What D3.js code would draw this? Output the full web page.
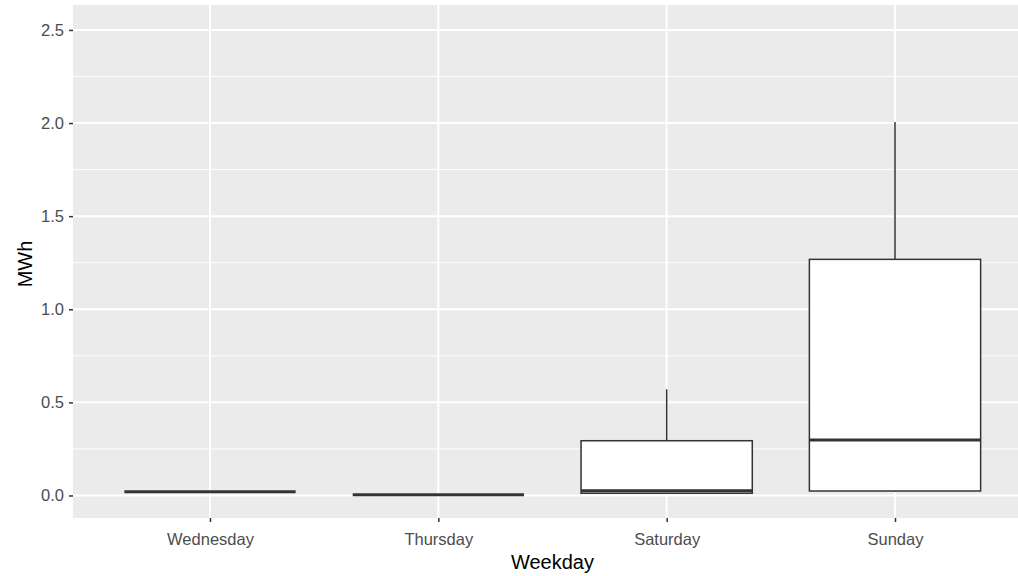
<!DOCTYPE html>
<html><head><meta charset="utf-8">
<script src="https://cdn.jsdelivr.net/npm/d3@7"></script>
<style>body{margin:0;background:#fff;}svg{display:block;font-family:"Liberation Sans",Arial,sans-serif;}</style>
</head><body>
<svg id="chart" width="1018" height="576"></svg>
<script>
const categories = ["Wednesday", "Thursday", "Saturday", "Sunday"];
const lowerWhisker = [0.02, 0.004, 0.012, 0.02];
const q1 = [0.02, 0.004, 0.012, 0.024];
const median = [0.02, 0.004, 0.026, 0.298];
const q3 = [0.02, 0.004, 0.294, 1.268];
const upperWhisker = [0.02, 0.004, 0.570, 2.006];
const yTicks = [0.0, 0.5, 1.0, 1.5, 2.0, 2.5];
const yMinor = [0.25, 0.75, 1.25, 1.75, 2.25];

const svg = d3.select("#chart");
const panel = {left: 73, top: 5, right: 1032, bottom: 518};

// ggplot-style discrete scale: expansion 0.6 units each side
const x = d3.scalePoint().domain(categories)
  .range([panel.left, panel.right]).padding(0.6);
const step = x.step();
const y = d3.scaleLinear().domain([-0.121, 2.634]).range([panel.bottom, panel.top]);

svg.append("rect").attr("x", panel.left).attr("y", panel.top)
  .attr("width", panel.right - panel.left).attr("height", panel.bottom - panel.top)
  .attr("fill", "#ebebeb");

const g = svg.append("g");
g.selectAll("line.minor").data(yMinor).enter().append("line")
  .attr("x1", panel.left).attr("x2", panel.right)
  .attr("y1", d => y(d)).attr("y2", d => y(d))
  .attr("stroke", "#fff").attr("stroke-width", 1);
g.selectAll("line.major").data(yTicks).enter().append("line")
  .attr("x1", panel.left).attr("x2", panel.right)
  .attr("y1", d => y(d)).attr("y2", d => y(d))
  .attr("stroke", "#fff").attr("stroke-width", 2);
g.selectAll("line.vmajor").data(categories).enter().append("line")
  .attr("x1", d => x(d)).attr("x2", d => x(d))
  .attr("y1", panel.top).attr("y2", panel.bottom)
  .attr("stroke", "#fff").attr("stroke-width", 2);

const boxW = step * 0.75;
const boxes = svg.append("g").selectAll("g").data(categories).enter().append("g");
boxes.append("line")
  .attr("x1", d => x(d)).attr("x2", d => x(d))
  .attr("y1", (d, i) => y(upperWhisker[i])).attr("y2", (d, i) => y(q3[i]))
  .attr("stroke", "#333").attr("stroke-width", 1.5);
boxes.append("line")
  .attr("x1", d => x(d)).attr("x2", d => x(d))
  .attr("y1", (d, i) => y(q1[i])).attr("y2", (d, i) => y(lowerWhisker[i]))
  .attr("stroke", "#333").attr("stroke-width", 1.5);
boxes.append("rect")
  .attr("x", d => x(d) - boxW / 2).attr("width", boxW)
  .attr("y", (d, i) => y(q3[i])).attr("height", (d, i) => y(q1[i]) - y(q3[i]))
  .attr("fill", "#fff").attr("stroke", "#333").attr("stroke-width", 1.5);
boxes.append("line")
  .attr("x1", d => x(d) - boxW / 2).attr("x2", d => x(d) + boxW / 2)
  .attr("y1", (d, i) => y(median[i])).attr("y2", (d, i) => y(median[i]))
  .attr("stroke", "#333").attr("stroke-width", 3);

// Y axis
const yAxis = d3.axisLeft(y).tickValues(yTicks).tickFormat(d3.format(".1f")).tickSize(4).tickPadding(5);
const ya = svg.append("g").attr("transform", `translate(${panel.left},0)`).call(yAxis);
ya.select(".domain").remove();
ya.selectAll(".tick line").attr("stroke", "#333").attr("stroke-width", 1.5);
ya.selectAll(".tick text").attr("fill", "#4d4d4d").style("font-size", "16.5px");

// X axis
const xAxis = d3.axisBottom(x).tickSize(4).tickPadding(11);
const xa = svg.append("g").attr("transform", `translate(0,${panel.bottom})`).call(xAxis);
xa.select(".domain").remove();
xa.selectAll(".tick line").attr("stroke", "#333").attr("stroke-width", 1.5);
xa.selectAll(".tick text").attr("fill", "#4d4d4d").style("font-size", "16.5px");

svg.append("text").attr("x", (panel.left + panel.right) / 2).attr("y", 569)
  .attr("text-anchor", "middle").style("font-size", "20px").attr("fill", "#000").text("Weekday");
svg.append("text").attr("transform", "translate(32,264) rotate(-90)")
  .attr("text-anchor", "middle").style("font-size", "20px").attr("fill", "#000").text("MWh");
</script>
</body></html>
